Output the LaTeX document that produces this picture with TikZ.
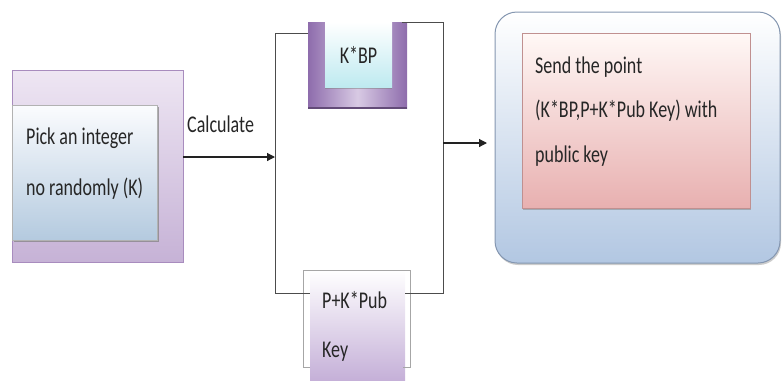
\documentclass[tikz,border=0pt]{standalone}
\usepackage{fontspec}
\setmainfont{Carlito}
\usepackage{graphicx}
\usetikzlibrary{arrows.meta,shadows}

\definecolor{lavA}{HTML}{EEE6F3}
\definecolor{lavB}{HTML}{C6B2D6}
\definecolor{lavEdge}{HTML}{A88CBE}
\definecolor{bluA}{HTML}{FBFCFE}
\definecolor{bluB}{HTML}{B4CADF}
\definecolor{purA}{HTML}{8E6CAC}
\definecolor{purB}{HTML}{D8CAE4}
\definecolor{cyA}{HTML}{FFFFFF}
\definecolor{cyB}{HTML}{BEEAF0}
\definecolor{pkB}{HTML}{C5B0D8}
\definecolor{skyB}{HTML}{B2C7E2}
\definecolor{skyEdge}{HTML}{8496B0}
\definecolor{roseA}{HTML}{FFF8F6}
\definecolor{roseB}{HTML}{E8B0B0}
\definecolor{roseEdge}{HTML}{C09090}
\definecolor{lineC}{HTML}{222222}

\newcommand{\nq}[1]{\scalebox{0.75}[1]{#1}}

\tikzset{
  box/.style={rectangle, inner sep=0pt, outer sep=0pt},
  txt/.style={anchor=base west, inner sep=0pt, font=\fontsize{24}{24}\selectfont, text=black!85},
  conn/.style={draw=lineC, line width=1.2pt},
  arr/.style={conn, -{Triangle[length=8pt,width=8pt]}},
  brk/.style={draw=black!70, line width=1pt},
}

\begin{document}
\begin{tikzpicture}[x=1pt,y=-1pt]
\useasboundingbox (0,0) rectangle (784,381);

% left block
\node[box, minimum width=171pt, minimum height=192pt, top color=lavA, bottom color=lavB, draw=lavEdge, line width=0.6pt] (pickout) at (97.5,166) {};
\node[box, minimum width=145pt, minimum height=135pt, top color=bluA, bottom color=bluB, draw=gray!60, drop shadow={shadow xshift=1.5pt, shadow yshift=-2pt, opacity=0.7}] (pick) at (84.5,172.5) {};
\node[txt] (t1) at (26,144) {\nq{Pick an integer}};
\node[txt] (t2) at (26,195) {\nq{no randomly (K)}};
\node[txt] (calc) at (187,132) {\nq{Calculate}};

% K*BP
\node[box, minimum width=99pt, minimum height=86pt, left color=purA, right color=purA, middle color=purB] (kbp) at (357.5,65) {};
\draw[purA!70!black, line width=2pt] (kbp.south west) -- (kbp.south east);
\node[box, minimum width=67pt, minimum height=65pt, top color=cyA, bottom color=cyB, drop shadow={shadow xshift=0pt, shadow yshift=-2pt, opacity=0.5}, font=\fontsize{24}{24}\selectfont, text=black!85] (kbpin) at (358.5,54.5) {\nq{K*BP}};

% P+K*Pub Key
\node[box, minimum width=95pt, minimum height=110pt, top color=white, bottom color=pkB] (pk) at (357.5,325) {};
\draw[brk, draw=gray!70] (303,270) -- (410,270);
\draw[brk, draw=gray!70] (310,367) -- (303,367) -- (303,270);
\draw[brk, draw=gray!70] (403,367) -- (410,367) -- (410,270);
\node[txt] (t3) at (322,308) {\nq{P+K*Pub}};
\node[txt] (t4) at (322,357) {\nq{Key}};

% brackets and arrows
\coordinate (lbin) at (275,157);
\coordinate (rbout) at (443,143);
\coordinate (sendarr) at (487,143);
\draw[arr] (pickout.east |- lbin) -- (lbin);
\draw[brk] (kbp.west |- 0,33) -- (275,33) -- (275,293) -- (pk.west |- 0,293);
\draw[brk] (402,22) -- (443,22) -- (443,293) -- (pk.east |- 0,293);
\draw[arr] (rbout) -- (sendarr);

% right block
\node[box, minimum width=285pt, minimum height=251pt, rounded corners=22pt, top color=white, bottom color=skyB, draw=skyEdge, line width=1pt, drop shadow={shadow xshift=1pt, shadow yshift=-2pt, opacity=0.4}] (send) at (637.5,137.5) {};
\node[box, minimum width=228pt, minimum height=175pt, top color=roseA, bottom color=roseB, draw=roseEdge, drop shadow={shadow xshift=1pt, shadow yshift=-2pt, opacity=0.5}] (sendin) at (636,120.5) {};
\node[txt] (t5) at (535,73) {\nq{Send the point}};
\node[txt] (t6) at (535,117) {\nq{(K*BP,P+K*Pub Key) with}};
\node[txt] (t7) at (535,162) {\nq{public key}};
\end{tikzpicture}
\end{document}
